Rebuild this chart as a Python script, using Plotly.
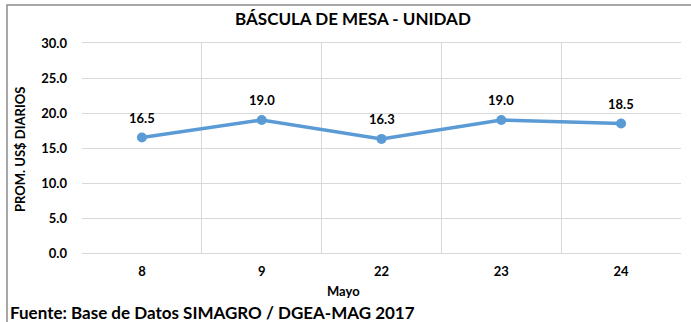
import plotly.graph_objects as go

# Daily average price, Báscula de mesa (unit), May 2017
dias = ["8", "9", "22", "23", "24"]
precios = [16.5, 19.0, 16.3, 19.0, 18.5]
y_ticks = [0, 5, 10, 15, 20, 25, 30]

W, H = 691, 322
L, R, T, B = 82, 10, 43, 69  # plot area margins in px
pw, ph = W - L - R, H - T - B

def px(x):
    return (x - L) / pw

def py(y):
    return (H - B - y) / ph

FONT = "Lato"
fig = go.Figure()
fig.add_trace(go.Scatter(
    x=dias, y=precios,
    mode="lines+markers",
    line=dict(color="#5B9BD5", width=3.5),
    marker=dict(color="#5B9BD5", size=10),
    cliponaxis=False,
    hoverinfo="skip",
))

# Value labels above each point (category axis positions by index)
for i, v in enumerate(precios):
    fig.add_annotation(x=i, y=v, xref="x", yref="y", text=f"<b>{v:.1f}</b>",
                       showarrow=False, yshift=20,
                       font=dict(family=FONT, size=13, color="#000000"))

fig.update_layout(
    width=W, height=H,
    margin=dict(l=L, r=R, t=T, b=B),
    paper_bgcolor="white", plot_bgcolor="white",
    showlegend=False,
    font=dict(family=FONT, color="#000000"),
)
fig.update_xaxes(
    type="category", tickson="boundaries",
    range=[-0.5, 4.5],
    showgrid=True, gridcolor="#D9D9D9", gridwidth=1,
    showline=True, linecolor="#D9D9D9", mirror=True,
    ticks="", ticklabelstandoff=6,
    tickfont=dict(family=FONT, size=13, weight="bold"),
    zeroline=False,
)
fig.update_yaxes(
    range=[0, 30], tickvals=y_ticks, tickformat=".1f",
    showgrid=True, gridcolor="#D9D9D9", gridwidth=1,
    showline=False, zeroline=False,
    ticks="", ticklabelstandoff=14,
    tickfont=dict(family=FONT, size=13, weight="bold"),
)

annos = [
    dict(text="<b>BÁSCULA DE MESA - UNIDAD</b>", x=px(353), y=py(19),
         font=dict(size=17)),
    dict(text="<b>Mayo</b>", x=px(343), y=py(291), font=dict(size=13)),
    dict(text="<b>PROM. US$ DIARIOS</b>", x=px(20), y=py(150),
         textangle=-90, font=dict(size=13)),
    dict(text="<b>Fuente: Base de Datos SIMAGRO / DGEA-MAG 2017</b>",
         x=px(8), y=py(312), xanchor="left", font=dict(size=17)),
]
for a in annos:
    a.setdefault("xanchor", "center")
    fig.add_annotation(xref="paper", yref="paper", yanchor="middle",
                       showarrow=False, font_family=FONT, **a)

# Chart frame: left and top edges
fig.add_shape(type="path", xref="paper", yref="paper",
              path=f"M {px(7)} {py(H)} L {px(7)} {py(5)} L {px(W + 5)} {py(5)}",
              line=dict(color="#8C8C8C", width=1.5), layer="above")

fig.write_html("out.html")
